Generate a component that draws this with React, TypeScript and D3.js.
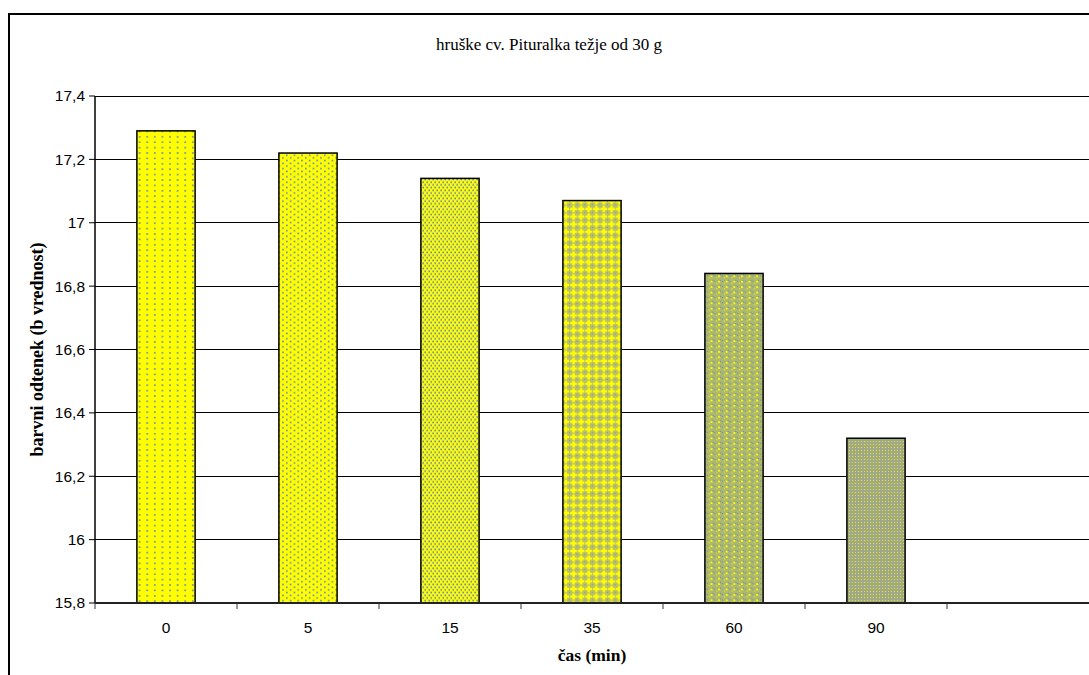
import React from "react";
import * as d3 from "d3";

// Time after treatment (minutes) and measured colour hue (b value)
const categories = ["0", "5", "15", "35", "60", "90", ""];
const values = [17.29, 17.22, 17.14, 17.07, 16.84, 16.32];
const yTicks = [15.8, 16.0, 16.2, 16.4, 16.6, 16.8, 17.0, 17.2, 17.4];
const patternIds = ["pat0", "pat1", "pat2", "pat3", "pat4", "pat5"];

const title = "hruške cv. Pituralka težje od 30 g";
const yTitle = "barvni odtenek (b vrednost)";
const xTitle = "čas (min)";

const W = 1089;
const H = 675;
const plot = { left: 95, top: 96, right: 1089, bottom: 603 };

const YEL = "#ffff00";
const BLU = "#5f80d8";
const MIX = "#a6ad78";
const SERIF = "'Liberation Serif', 'Times New Roman', serif";
const SANS = "'Liberation Sans', Arial, sans-serif";

export default function App() {
  const x = d3
    .scaleBand<string>()
    .domain(categories)
    .range([plot.left, plot.right])
    .paddingInner(0.59)
    .paddingOuter(0.295);
  const band = d3.scaleBand<string>().domain(categories).range([plot.left, plot.right]);
  const y = d3.scaleLinear().domain([15.8, 17.4]).range([plot.bottom, plot.top]);
  const fmt = (v: number) => d3.format("~g")(+v.toFixed(1)).replace(".", ",");

  return (
    <svg
      width={W}
      height={H}
      style={{ position: "absolute", left: 0, top: 0, display: "block", background: "#fff" }}
    >
      <defs>
        {/* sparse dots */}
        <pattern id="pat0" patternUnits="userSpaceOnUse" width={7.6} height={5.4}>
          <rect width={7.6} height={5.4} fill={YEL} />
          <rect x={2} y={1} width={1.6} height={1.6} fill={BLU} />
        </pattern>
        {/* offset dots */}
        <pattern id="pat1" patternUnits="userSpaceOnUse" width={7.6} height={5.4}>
          <rect width={7.6} height={5.4} fill={YEL} />
          <rect x={1} y={0.5} width={1.6} height={1.6} fill={BLU} />
          <rect x={4.8} y={3.2} width={1.6} height={1.6} fill={BLU} />
        </pattern>
        {/* dense offset dots */}
        <pattern id="pat2" patternUnits="userSpaceOnUse" width={4} height={5.4}>
          <rect width={4} height={5.4} fill={YEL} />
          <rect x={0.4} y={0.5} width={1.6} height={1.6} fill={BLU} />
          <rect x={2.4} y={3.2} width={1.6} height={1.6} fill={BLU} />
        </pattern>
        {/* crosshatch */}
        <pattern id="pat3" patternUnits="userSpaceOnUse" width={7.6} height={7.6}>
          <rect width={7.6} height={7.6} fill="#b7bd6a" />
          <rect x={2.3} y={0.6} width={2.4} height={6.4} fill={YEL} />
          <rect x={0.2} y={2.6} width={6.6} height={2.4} fill={YEL} />
          <rect x={6.8} y={6.8} width={0.8} height={0.8} fill={BLU} />
        </pattern>
        {/* grey-green with light spots */}
        <pattern id="pat4" patternUnits="userSpaceOnUse" width={7.6} height={5.4}>
          <rect width={7.6} height={5.4} fill="#adb86c" />
          <rect x={0} y={0} width={1} height={1} fill={BLU} />
          <rect x={2} y={2} width={1} height={1} fill={YEL} />
          <rect x={5.8} y={4.4} width={1} height={1} fill={BLU} />
          <rect x={3.8} y={0} width={1.8} height={1.8} fill={YEL} />
        </pattern>
        {/* fine checkerboard */}
        <pattern id="pat5" patternUnits="userSpaceOnUse" width={3} height={3}>
          <rect width={3} height={3} fill={MIX} />
          <rect x={0} y={0} width={1} height={1} fill="#dede40" />
          <rect x={1.5} y={1.5} width={1} height={1} fill="#8096c8" />
        </pattern>
      </defs>

      {/* outer chart frame */}
      <rect x={9} y={14} width={W} height={H} fill="none" stroke="#000" strokeWidth={2} />

      <text x={549} y={50} textAnchor="middle" fontFamily={SERIF} fontSize={17}>
        {title}
      </text>

      {/* horizontal gridlines */}
      {yTicks.map((t) => (
        <line
          key={`g${t}`}
          x1={plot.left}
          x2={plot.right}
          y1={y(t)}
          y2={y(t)}
          stroke="#000"
          strokeWidth={1}
          shapeRendering="crispEdges"
        />
      ))}

      {/* bars */}
      {values.map((v, i) => (
        <rect
          key={`b${i}`}
          x={x(categories[i])}
          y={y(v)}
          width={x.bandwidth()}
          height={y(15.8) - y(v)}
          fill={`url(#${patternIds[i]})`}
          stroke="#000"
          strokeWidth={1.5}
        />
      ))}

      {/* y axis */}
      <line x1={plot.left} x2={plot.left} y1={plot.top} y2={plot.bottom} stroke="#000" strokeWidth={1.5} />
      {yTicks.map((t) => (
        <g key={`yt${t}`}>
          <line x1={plot.left - 6} x2={plot.left} y1={y(t)} y2={y(t)} stroke="#000" strokeWidth={1} />
          <text
            x={plot.left - 10}
            y={y(t)}
            dy="0.35em"
            textAnchor="end"
            fontFamily={SANS}
            fontSize={15.5}
          >
            {fmt(t)}
          </text>
        </g>
      ))}

      {/* x axis */}
      <line x1={plot.left} x2={plot.right} y1={plot.bottom} y2={plot.bottom} stroke="#222" strokeWidth={2} />
      {categories.map((c, i) => (
        <g key={`xt${i}`}>
          <line
            x1={band(c)!}
            x2={band(c)!}
            y1={plot.bottom}
            y2={plot.bottom + 6}
            stroke="#333"
            strokeWidth={1}
          />
          <text
            x={band(c)! + band.bandwidth() / 2}
            y={633}
            textAnchor="middle"
            fontFamily={SANS}
            fontSize={15.5}
          >
            {c}
          </text>
        </g>
      ))}

      <text
        x={(plot.left + plot.right) / 2}
        y={661}
        textAnchor="middle"
        fontFamily={SERIF}
        fontWeight="bold"
        fontSize={17.5}
      >
        {xTitle}
      </text>
      <text
        transform={`translate(43, ${(plot.top + plot.bottom) / 2}) rotate(-90)`}
        textAnchor="middle"
        fontFamily={SERIF}
        fontWeight="bold"
        fontSize={18}
      >
        {yTitle}
      </text>
    </svg>
  );
}
